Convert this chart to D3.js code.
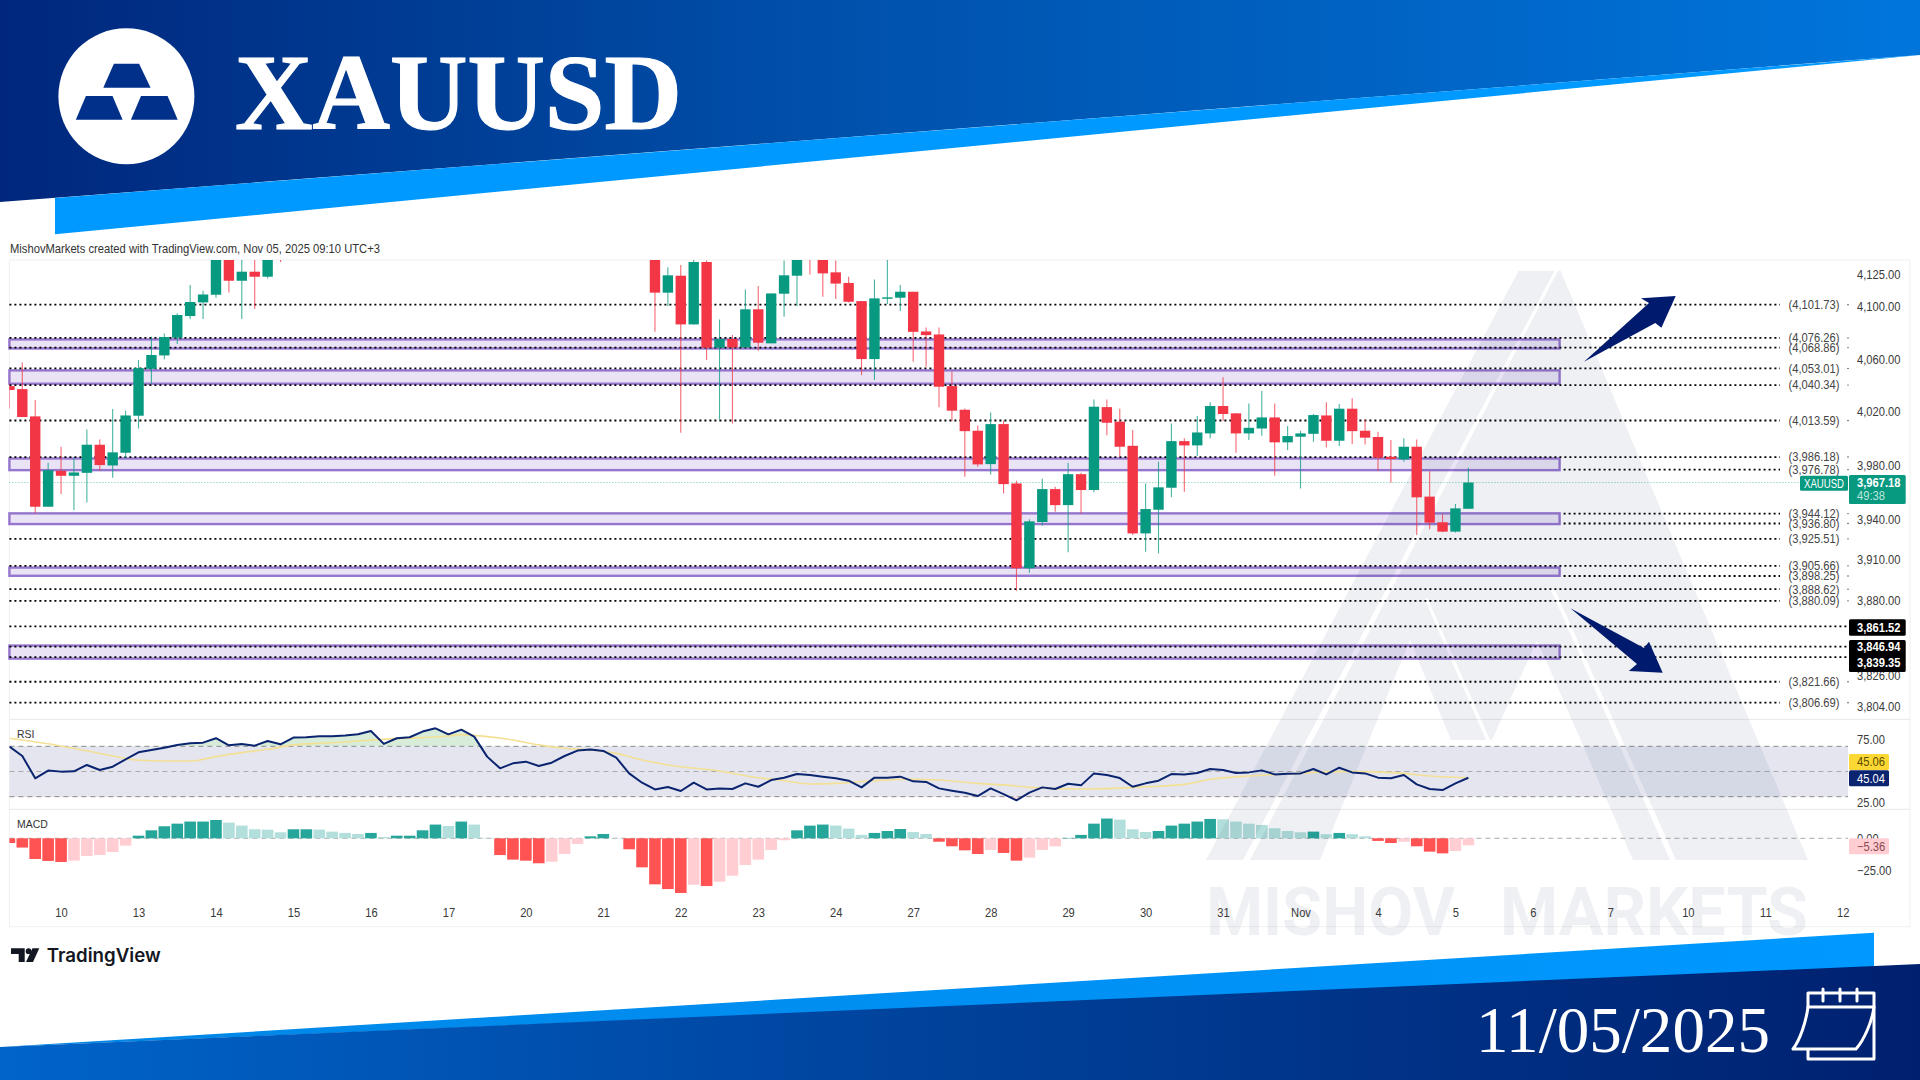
<!DOCTYPE html>
<html>
<head>
<meta charset="utf-8">
<title>XAUUSD</title>
<script src="https://cdn.jsdelivr.net/npm/d3@7"></script>
<style>
  html, body { margin: 0; padding: 0; background: #fff; overflow: hidden; }
  text { font-family: "Liberation Sans", Arial, sans-serif; }
</style>
</head>
<body>
<div id="chart"></div>
<script>
// 4H candles, one per bar index. null = bar sits above the visible pane
const opens = [
  4039.6,4037.3,4016.7,3949.2,3975.9,3972.2,3974.4,3995.4,3979.9,3989.4,
  4017.2,4052.7,4062.9,4076.4,4093,4103.5,4109.4,4140,4120.2,4127.2,
  4123.3,4148,null,null,null,null,null,null,null,null,
  null,null,null,null,null,null,null,null,null,null,
  null,null,null,null,null,null,null,null,null,null,
  4140,4111,4124.1,4086.6,4134.7,4068.8,4075.4,4069,4098.2,4072.1,
  4110.2,4124.1,4145,4138,4126.7,4118.5,4104.5,4060.1,4106.3,4107.1,
  4111.7,4081.2,4078.9,4039.6,4021.7,4005.9,3980.9,4010.9,3966.5,3903.9,
  3937.9,3962.3,3950.4,3973.4,3961.6,4023.7,4012.7,3994.6,3929.5,3947,
  3963.3,3998.1,3994.9,4003.9,4024.5,4019,4003.9,4007.6,4015.9,3997.2,
  4001.4,4003.6,4017.4,3998.4,4022.5,4005.9,4001.2,3986.4,3984.4,3993.9,
  3956.7,3937.7,3930.8,3947.7
]
const closes = [
  4036.6,4016.2,3949.2,3976.4,3972.2,3974.7,3995.4,3980.2,3989.7,4017.4,
  4053.2,4063.2,4076.9,4093.8,4103.8,4109.6,4140,4120.2,4127.2,4123.3,
  4140,4140,null,null,null,null,null,null,null,null,
  null,null,null,null,null,null,null,null,null,null,
  null,null,null,null,null,null,null,null,null,null,
  4111,4124.4,4086.6,4134.7,4068.8,4075.4,4069,4098.2,4072.6,4110.4,
  4124.4,4138,4138,4125.9,4118,4104,4060.1,4106.6,4107.4,4111.7,
  4080.9,4078.4,4039.1,4021,4005.6,3980.7,4010.9,3966,3903.9,3938.4,
  3962.3,3950.4,3973.4,3961.6,4024,4011.9,3993.9,3929.5,3947.5,3963.6,
  3998.1,3994.9,4004.6,4024.5,4018.5,4003.9,4008.1,4015.9,3997.2,4001.9,
  4003.9,4017.7,3998.4,4022.5,4005.6,4000.7,3985.7,3984.7,3993.9,3956.2,
  3937.4,3930.8,3948,3967.18
]
const highs = [
  4041.6,4057.5,4029,3981.9,3993.9,3985.2,4006.9,3999.4,4022.2,4021,
  4059.4,4077.1,4079.7,4095.1,4116.9,4112.5,4143,4144,4140,4140,
  4145,4150,null,null,null,null,null,null,null,null,
  null,null,null,null,null,null,null,null,null,null,
  null,null,null,null,null,null,null,null,null,null,
  4145,4130.6,4132.4,4136.3,4135.8,4090.4,4078.4,4113.5,4116.1,4110.4,
  4135.8,4142,4148,4142,4135.8,4123.3,4104.5,4121.2,4136.3,4116.9,
  4111.7,4084.3,4084.3,4050.5,4022.7,4009.9,4019.7,4013.4,3968.5,3939.9,
  3970,3964.1,3981.9,3974.4,4029.5,4029.5,4022.5,4006.4,3966.5,3982.7,
  4011.4,4000.2,4017,4027.3,4046.2,4019,4026.5,4035.8,4026.5,4009.4,
  4005.9,4018.5,4027.3,4026,4030.3,4014.4,4005.1,3998.9,4000.2,3999.4,
  3975.6,3943.8,3951.2,3978.4
]
const lows = [
  4022.7,4016.2,3944.3,3949.2,3958.6,3946.7,3952.4,3975.9,3970.7,3985.2,
  4007.6,4041.6,4059.9,4071.6,4090.7,4090.7,4107.1,4111.2,4090.7,4098.4,
  4122,4134.7,null,null,null,null,null,null,null,null,
  null,null,null,null,null,null,null,null,null,null,
  null,null,null,null,null,null,null,null,null,null,
  4081,4100.7,4004.4,4086.6,4059.4,4014.4,4011.4,4069,4066.5,4072.1,
  4092.5,4100.7,4125.1,4107.9,4106.1,4103.5,4048,4044.2,4102.3,4096.9,
  4058.1,4054.2,4023.5,4013.2,3971.4,3978.9,3973.2,3959.1,3887.4,3900.7,
  3935.2,3945.5,3915.6,3944.3,3959.9,4002.6,3986.4,3928.3,3916,3914.8,
  3956.2,3960.4,3986.9,4000.2,4013.4,3989.4,3998.9,4002.1,3972.2,3991.4,
  3962.8,3997.7,3993.4,3994.4,3995.9,3995.6,3975.9,3967.1,3982.7,3928.3,
  3932.5,3930.3,3930.1,3947.7
]

const rsi = [
  69.7,62.3,44.6,50.7,49.9,50.1,55.2,51.2,53.8,59.7,
  65.2,67.1,68.9,71.1,72.4,72.9,76.4,70.8,71.9,70.5,
  74.2,71.6,76.9,77.2,77.9,77.9,78.5,79.5,82.2,71.9,
  76.4,77.2,81.7,84.3,79.5,83.2,77.7,61.8,52.5,56.5,
  57.8,54.4,57,62.3,66.6,67.4,66.3,61,48.5,41.1,
  35.8,37.7,34.5,41.1,35.8,36.6,36.1,40.6,37.9,43.2,
  45.1,48,47.2,45.9,44.6,42.7,37.4,45.1,45.1,45.9,
  42.2,41.7,36.6,34.8,33.2,30.5,36.6,32.1,27.1,33.2,
  37.4,36.1,40.3,39,48.5,47.2,44.8,37.9,40.6,42.7,
  48,47.7,48.8,52,51.2,48.8,49.3,50.9,47.7,48.3,
  48.5,52,47.7,53,49.3,48.5,45.1,44.6,47.2,39.8,
  36.1,35.3,40.6,45.04
]
// RSI moving average, read at these bars only
const rsiMaBars = [0,4,8,10,12,14,16,18,20,22,24,26,28,30,32,34,35,37,39,41,43,45,47,49,51,55,58,60,62,64,67,70,72,75,78,79,83,85,88,91,93,96,99,103,105,108,110,113]
const rsiMa = [76.4,70.3,62.3,58.9,58.3,58.3,61.8,65,67.6,71.1,72.4,73.4,75,76.1,76.9,78.2,79.3,77.7,75,71.1,68.4,67.1,64.4,59.1,55.2,50.4,45.1,42.7,40.1,40.6,42.7,43.8,43.2,40.6,38.5,37.4,36.1,36.4,37.9,39.8,43.8,46.4,48,49.9,49.9,48.5,46.4,45.06]

const macdHist = [
  -3.6,-7.1,-15.8,-17.3,-18.1,-17.1,-13.5,-12.8,-10.5,-5.6,
  2,6.1,9.2,11.2,12.8,12.8,14,12,9.7,6.9,
  6.6,4.6,6.9,6.9,6.6,5.1,4.1,3.3,4.1,1,
  2,2,6.1,10.5,9.4,12.8,10.5,0.3,-12.8,-16.3,
  -17.1,-19.1,-17.9,-12,-4.3,1.5,3.3,0.3,-8.4,-22.2,
  -35.2,-38.8,-41.8,-35.5,-36.5,-33.2,-28.6,-20.4,-16.3,-8.9,
  -1.5,6.1,9.7,10.5,9.7,7.4,2.6,4.1,5.6,7.1,
  4.8,3.3,-2.6,-6.1,-9.2,-12,-8.9,-11.2,-17.1,-14.8,
  -8.9,-6.1,0.3,2.6,11.2,15.1,14.3,6.9,4.8,5.6,
  9.7,11.2,12.8,14.8,14.5,12.8,11.2,10.2,7.7,5.6,
  4.6,5.1,3.1,4.1,3.1,1.5,-2,-3.6,-2.6,-6.1,
  -10.2,-11.5,-9.7,-5.36
]

const levels = [4101.73,4076.26,4068.86,4053.01,4040.34,4013.59,3986.18,3976.78,3944.12,3936.80,3925.51,3905.66,3898.25,3888.62,3880.09,3861.52,3846.94,3839.35,3821.66,3806.69]
const blackLevels = [3861.52,3846.94,3839.35]
const coveredLevels = [3976.78,3944.12,3936.80,3898.25]
const zoneTops = [4075.1,4051.5,3985.1,3944.3,3904.4,3847.7]
const zoneBottoms = [4068.2,4041.4,3976.4,3936.4,3898.4,3838.3]
const priceTicks = [4125,4100,4060,4020,3980,3940,3910,3880,3826,3804]
const rsiTicks = [75,25]
const macdTicks = [0,-25]
const dateBars = [4,10,16,22,28,34,40,46,52,58,64,70,76,82,88,94,100,106,112,118,124,130,136,142]
const dateLabels = ["10","13","14","15","16","17","20","21","22","23","24","27","28","29","30","31","Nov","4","5","6","7","10","11","12"]
const lastPrice = 3967.18

const width = 1920
const height = 1080
const left = 9.4
const axisX = 1848
const zoneEnd = 1559.6
const levelEnd = 1780
const smallFont = "12.4px"
const bars = d3.range(opens.length)

const x = d3.scaleLinear().domain([0, 142]).range([left, 1842.8])
const yPrice = d3.scaleLog().domain([3806.69, 4101.73]).range([702.7, 304.7])
const yRsi = d3.scaleLinear().domain([30, 70]).range([796.7, 746.3])
const yMacd = d3.scaleLinear().domain([-25, 0]).range([871, 838.3])

const svg = d3.select("#chart").append("svg")
  .attr("width", width)
  .attr("height", height)
  .style("display", "block")

const defs = svg.append("defs")

function gradient(id, stops) {
  const g = defs.append("linearGradient").attr("id", id)
  stops.forEach(s => g.append("stop").attr("offset", s[0]).attr("stop-color", s[1]))
}
gradient("headBlue", [[0, "#00277c"], [0.45, "#0052ad"], [1, "#0076dc"]])
gradient("footBlue", [[0, "#0064ca"], [0.5, "#00419a"], [1, "#00206f"]])
gradient("footLight", [[0, "#0086e6"], [1, "#0099ff"]])

function clip(id, x0, y0, w, h) {
  defs.append("clipPath").attr("id", id).append("rect")
    .attr("x", x0).attr("y", y0).attr("width", w).attr("height", h)
}
clip("pricePane", left, 260, axisX - left, 459)
clip("rsiPane", left, 719, axisX - left, 90)
clip("macdPane", left, 810, axisX - left, 90)
clip("overbought", left, 719, axisX - left, yRsi(70) - 719)
clip("oversold", left, yRsi(30), axisX - left, 809 - yRsi(30))

// banners
svg.append("path").attr("d", "M0,0H1920V55L0,202Z").attr("fill", "url(#headBlue)")
svg.append("path").attr("d", "M55,198L1920,55L55,234.3Z").attr("fill", "#0099ff")
svg.append("path").attr("d", "M0,1047L1874,932.7V968L0,1047Z").attr("fill", "url(#footLight)")
svg.append("path").attr("d", "M0,1047L1920,964V1080H0Z").attr("fill", "url(#footBlue)")

// logo
svg.append("circle").attr("cx", 126.4).attr("cy", 96.2).attr("r", 68).attr("fill", "#fff")
svg.append("g").attr("fill", "#00308a").selectAll("path")
  .data([
    "M113.9,63.7H139.1L150.6,87.7H103.3Z",
    "M85.9,96H112.5L122.6,119.7H75.8Z",
    "M141,96H167.6L177.7,119.7H130.9Z"
  ])
  .join("path")
  .attr("d", d => d)

svg.append("text")
  .attr("x", 235).attr("y", 129)
  .attr("textLength", 447).attr("lengthAdjust", "spacingAndGlyphs")
  .style("font-family", '"Liberation Serif", serif')
  .style("font-weight", 700)
  .style("font-size", "109px")
  .attr("fill", "#fff")
  .attr("stroke", "#fff")
  .attr("stroke-width", 1.2)
  .text("XAUUSD")

svg.append("text")
  .attr("x", 1476).attr("y", 1051.7)
  .attr("textLength", 294).attr("lengthAdjust", "spacingAndGlyphs")
  .style("font-family", '"Liberation Serif", serif')
  .style("font-size", "66px")
  .attr("fill", "#fff")
  .text("11/05/2025")

// calendar icon
const cal = svg.append("g").attr("fill", "none").attr("stroke", "#fff").attr("stroke-width", 3).attr("stroke-linejoin", "round").attr("stroke-linecap", "round")
cal.append("path").attr("d", "M1808,1050V1059H1874V993H1808V1007")
cal.append("path").attr("d", "M1808,1007C1806,1022 1800,1040 1793,1049H1856C1864,1040 1872,1022 1874,1007H1808Z").attr("fill", "none")
cal.append("path").attr("d", "M1823,989V1001M1840,989V1001M1857,989V1001")

// chart frame
svg.append("rect")
  .attr("x", left).attr("y", 260).attr("width", 1910 - left).attr("height", 666.7)
  .attr("fill", "#fff").attr("stroke", "#f0f0f0")
svg.append("g").attr("stroke", "#e8e8e8").selectAll("line")
  .data([719.3, 809.3])
  .join("line")
  .attr("x1", left).attr("x2", 1910).attr("y1", d => d).attr("y2", d => d)

// purple zones
svg.append("g").selectAll("rect")
  .data(zoneTops)
  .join("rect")
  .attr("x", left)
  .attr("width", zoneEnd - left)
  .attr("y", d => yPrice(d))
  .attr("height", (d, i) => yPrice(zoneBottoms[i]) - yPrice(d))
  .attr("fill", "rgba(126,87,194,0.17)")
  .attr("stroke", "#9575cd")
  .attr("stroke-width", 2.4)

// rsi band
svg.append("rect")
  .attr("x", left).attr("width", axisX - left)
  .attr("y", yRsi(70)).attr("height", yRsi(30) - yRsi(70))
  .attr("fill", "#e4e5ef")
svg.append("g").selectAll("line")
  .data([70, 50, 30])
  .join("line")
  .attr("x1", left).attr("x2", axisX)
  .attr("y1", d => yRsi(d)).attr("y2", d => yRsi(d))
  .attr("stroke", d => d === 50 ? "#aaa" : "#8b8b8b")
  .attr("stroke-dasharray", "5,4")

// macd histogram
svg.append("line")
  .attr("x1", left).attr("x2", axisX)
  .attr("y1", yMacd(0)).attr("y2", yMacd(0))
  .attr("stroke", "#aaa").attr("stroke-dasharray", "5,4")

function macdColor(i) {
  const v = macdHist[i]
  const prev = i > 0 ? macdHist[i - 1] : v
  if (v >= 0) return v >= prev ? "#26a69a" : "#b2dfdb"
  return v <= prev ? "#ff5252" : "#ffcdd2"
}
svg.append("g").attr("clip-path", "url(#macdPane)").selectAll("rect")
  .data(bars)
  .join("rect")
  .attr("x", i => x(i) - 5.8)
  .attr("width", 11.6)
  .attr("y", i => Math.min(yMacd(0), yMacd(macdHist[i])))
  .attr("height", i => Math.abs(yMacd(macdHist[i]) - yMacd(0)))
  .attr("fill", macdColor)

// watermark
const mark = svg.append("g").attr("fill", "#2a3a6e").attr("fill-opacity", 0.08)
mark.append("path").attr("d", "M1518.6,270.7H1554.5L1243,860H1206Z")
mark.append("path").attr("d", "M1560.6,270.7L1808,860H1676L1555,590L1551,590L1670,860H1633L1537,640L1492,740H1490L1427,597L1425,600L1486,740H1451L1410,640L1320,860H1250L1558,270.7Z")
mark.append("text")
  .attr("x", 1206).attr("y", 935)
  .attr("textLength", 249).attr("lengthAdjust", "spacingAndGlyphs")
  .style("font-family", "Roboto, sans-serif").style("font-weight", 700).style("font-size", "67px")
  .text("MISHOV")
mark.append("text")
  .attr("x", 1500).attr("y", 935)
  .attr("textLength", 308).attr("lengthAdjust", "spacingAndGlyphs")
  .style("font-family", "Roboto, sans-serif").style("font-weight", 700).style("font-size", "67px")
  .text("MARKETS")

// dotted levels
svg.append("g").selectAll("line")
  .data(levels)
  .join("line")
  .attr("x1", d => coveredLevels.includes(d) ? zoneEnd + 4 : left)
  .attr("x2", d => blackLevels.includes(d) ? axisX : levelEnd)
  .attr("y1", d => yPrice(d))
  .attr("y2", d => yPrice(d))
  .attr("stroke", "#000")
  .attr("stroke-width", 1.8)
  .attr("stroke-dasharray", "2,3")

svg.append("line")
  .attr("x1", left).attr("x2", 1800)
  .attr("y1", yPrice(lastPrice)).attr("y2", yPrice(lastPrice))
  .attr("stroke", "#089981").attr("stroke-opacity", 0.6).attr("stroke-dasharray", "1,2")

// candles
const candles = svg.append("g").attr("clip-path", "url(#pricePane)")
  .selectAll("g")
  .data(bars.filter(i => opens[i] !== null))
  .join("g")
  .attr("fill", i => closes[i] >= opens[i] ? "#089981" : "#f23645")
  .attr("stroke", i => closes[i] >= opens[i] ? "#089981" : "#f23645")

candles.append("line")
  .attr("x1", i => x(i)).attr("x2", i => x(i))
  .attr("y1", i => yPrice(highs[i])).attr("y2", i => yPrice(lows[i]))
  .attr("stroke-width", 1.1)
  .attr("stroke-opacity", 0.75)

candles.append("rect")
  .attr("x", i => x(i) - 5.2)
  .attr("width", 10.4)
  .attr("y", i => yPrice(Math.max(opens[i], closes[i])))
  .attr("height", i => Math.max(1, Math.abs(yPrice(opens[i]) - yPrice(closes[i]))))
  .attr("stroke", "none")

// rsi lines
const rsiLine = d3.line().x((d, i) => x(i)).y(d => yRsi(d))
const rsiFill = d3.area().x((d, i) => x(i)).y0(d => yRsi(d)).y1(yRsi(70))
const rsiFillLow = d3.area().x((d, i) => x(i)).y0(d => yRsi(d)).y1(yRsi(30))

svg.append("path").attr("clip-path", "url(#overbought)").attr("d", rsiFill(rsi)).attr("fill", "rgba(76,175,80,0.22)")
svg.append("path").attr("clip-path", "url(#oversold)").attr("d", rsiFillLow(rsi)).attr("fill", "rgba(242,54,69,0.22)")

const maLine = d3.line()
  .x(d => x(d))
  .y((d, i) => yRsi(rsiMa[i]))
  .curve(d3.curveMonotoneX)

svg.append("path").attr("clip-path", "url(#rsiPane)").attr("d", maLine(rsiMaBars))
  .attr("fill", "none").attr("stroke", "#f3e094").attr("stroke-width", 1.6)
svg.append("path").attr("clip-path", "url(#rsiPane)").attr("d", rsiLine(rsi))
  .attr("fill", "none").attr("stroke", "#0b2470").attr("stroke-width", 2).attr("stroke-linejoin", "round")

// axes
function styleAxis(g) {
  g.select(".domain").remove()
  g.selectAll("line").remove()
  g.selectAll("text")
    .attr("fill", "#3a3a3a")
    .style("font-size", smallFont)
}

svg.append("g")
  .attr("transform", `translate(${axisX + 9},0)`)
  .call(d3.axisRight(yPrice).tickValues(priceTicks).tickSize(0).tickPadding(0).tickFormat(d3.format(",.2f")))
  .call(styleAxis)

svg.append("g")
  .attr("transform", `translate(${axisX + 9},0)`)
  .call(d3.axisRight(yRsi).tickValues(rsiTicks).tickSize(0).tickPadding(0).tickFormat(d3.format(".2f")))
  .call(styleAxis)

svg.append("g")
  .attr("transform", `translate(${axisX + 9},0)`)
  .call(d3.axisRight(yMacd).tickValues(macdTicks).tickSize(0).tickPadding(0).tickFormat(d3.format(".2f")))
  .call(styleAxis)
  .selectAll("text").text(d => d === 0 ? "0.00" : "\u221225.00")

svg.append("g")
  .attr("transform", "translate(0,908)")
  .call(d3.axisBottom(x).tickValues(dateBars).tickSize(0).tickPadding(0).tickFormat((d, i) => dateLabels[i]))
  .call(styleAxis)

// level labels in brackets
const labelled = levels.filter(d => !blackLevels.includes(d))
svg.append("g").selectAll("text")
  .data(labelled)
  .join("text")
  .attr("x", 1788.6)
  .attr("y", d => yPrice(d))
  .attr("dy", "0.35em")
  .attr("fill", "#444")
  .style("font-size", smallFont)
  .text(d => `(${d3.format(",.2f")(d)})`)

svg.append("g").selectAll("circle")
  .data(labelled)
  .join("circle")
  .attr("cx", axisX)
  .attr("cy", d => yPrice(d))
  .attr("r", 0.7)
  .attr("fill", "#333")

// tags on the price scale
function tag(x0, y0, w, h, fill, label, color, bold, tx) {
  svg.append("rect").attr("x", x0).attr("y", y0).attr("width", w).attr("height", h).attr("rx", 1.5).attr("fill", fill)
  if (label) tagText(tx === undefined ? x0 + 8 : tx, y0 + h / 2, label, color, bold)
}
function tagText(tx, ty, label, color, bold) {
  return svg.append("text")
    .attr("x", tx).attr("y", ty).attr("dy", "0.35em")
    .attr("fill", color)
    .style("font-size", smallFont)
    .style("font-weight", bold ? 700 : 400)
    .text(label)
}

tag(1849, 619.3, 56.7, 16.4, "#000", d3.format(",.2f")(blackLevels[0]), "#fff", true)
tag(1849, 640, 56.7, 32, "#000")
tagText(1857, 646.7, d3.format(",.2f")(blackLevels[1]), "#fff", true)
tagText(1857, 662.7, d3.format(",.2f")(blackLevels[2]), "#fff", true)

tag(1800, 475.7, 48, 15, "#089981")
tagText(1804, 483.2, "XAUUSD", "#fff", false).attr("textLength", 40).attr("lengthAdjust", "spacingAndGlyphs")
tag(1849, 475, 56.7, 29, "#089981")
tagText(1857, 482.3, d3.format(",.2f")(lastPrice), "#fff", true)
tagText(1857, 495.7, "49:38", "#bfe8dd", false)

tag(1849, 754, 40, 16, "#fdd835", d3.format(".2f")(rsiMa[rsiMa.length - 1]), "#5a4a00", false)
tag(1849, 770.3, 40, 16, "#0b2470", d3.format(".2f")(rsi[rsi.length - 1]), "#fff", false)
tag(1849, 838.3, 40, 16, "#ffcdd2", "\u2212" + Math.abs(macdHist[macdHist.length - 1]).toFixed(2), "#8c4a50", false)

// pane titles
svg.append("text").attr("x", 17).attr("y", 733.7).attr("dy", "0.35em").attr("fill", "#333").style("font-size", "11.6px").text("RSI")
svg.append("text").attr("x", 17).attr("y", 823.7).attr("dy", "0.35em").attr("fill", "#333").style("font-size", "11.6px").text("MACD")

svg.append("text")
  .attr("x", 10).attr("y", 249).attr("dy", "0.35em")
  .attr("textLength", 370).attr("lengthAdjust", "spacingAndGlyphs")
  .attr("fill", "#333")
  .style("font-size", smallFont)
  .text("MishovMarkets created with TradingView.com, Nov 05, 2025 09:10 UTC+3")

// arrows
svg.append("g").attr("fill", "#001a6e").selectAll("path")
  .data([
    "M1584,361.7L1649,303L1641,298.3L1675.7,296L1661.4,327.7L1655.3,323Z",
    "M1570.4,608.3L1644,648L1649,641.7L1662.7,672.7L1628.8,671L1637,664Z"
  ])
  .join("path")
  .attr("d", d => d)

// tradingview logo
const tv = svg.append("g").attr("fill", "#131722")
tv.append("path").attr("d", "M11,948.3H24.7V962H18.7V954H11Z")
tv.append("circle").attr("cx", 28.6).attr("cy", 951.2).attr("r", 2.9)
tv.append("path").attr("d", "M32.5,948.3H39.3L33,962H26Z")
tv.append("text")
  .attr("x", 46.7).attr("y", 961.7)
  .attr("textLength", 114).attr("lengthAdjust", "spacingAndGlyphs")
  .style("font-family", "Inter, sans-serif")
  .style("font-weight", 600)
  .style("font-size", "18.5px")
  .text("TradingView")

// tall and narrow, like the chart's own small labels
svg.selectAll("text")
  .filter(function() { return !this.hasAttribute("textLength") })
  .each(function() {
    d3.select(this)
      .attr("textLength", this.getComputedTextLength() * 0.9)
      .attr("lengthAdjust", "spacingAndGlyphs")
  })
</script>
</body>
</html>
